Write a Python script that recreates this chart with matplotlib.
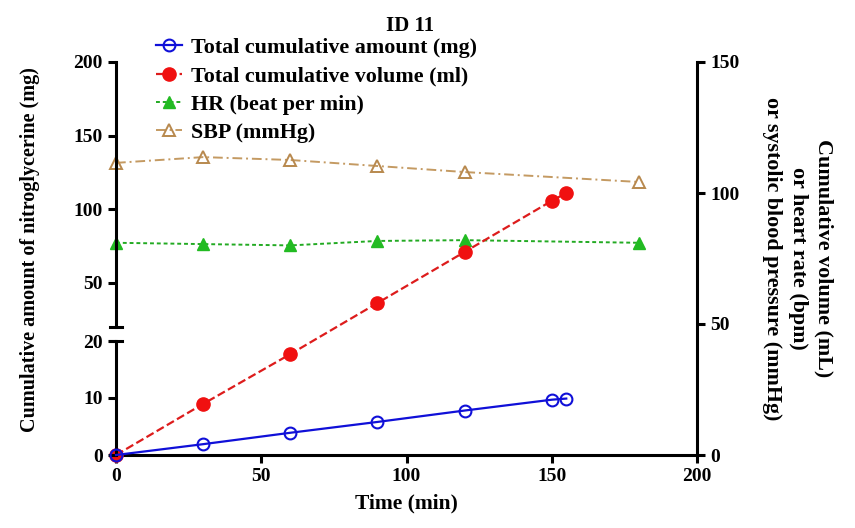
import matplotlib
matplotlib.use('Agg')
import matplotlib.pyplot as plt

plt.rcParams['font.family'] = ['Liberation Serif', 'DejaVu Serif']
plt.rcParams['font.weight'] = 'bold'

# data
time_amount = [0, 30, 60, 90, 120, 150, 155]
amount_mg = [0, 1.9, 3.9, 5.8, 7.8, 9.7, 9.9]
volume_ml = [0, 19.5, 38.5, 58, 77.5, 97, 100]
time_vitals = [0, 30, 60, 90, 120, 180]
hr_bpm = [81, 80.5, 80, 81.7, 82, 81]
sbp_mmhg = [111.5, 113.7, 112.6, 110.3, 108, 104.2]

x_ticks = [0, 50, 100, 150, 200]
right_ticks = [0, 50, 100, 150]
low_ticks = [0, 10, 20]
up_ticks = [50, 100, 150, 200]

fig = plt.figure(figsize=(8.55, 5.28), dpi=100)
L, W = 116 / 855, 581 / 855
B, T = 1 - 455 / 528, 1 - 62 / 528
lw = 2.2
tick_fs = 14

# main axes: volume / HR / SBP against the right-hand scale
ax = fig.add_axes([L, B, W, T - B])
ax.set_facecolor('none')
ax.set_xlim(0, 200)
ax.set_ylim(0, 150)
ax.yaxis.tick_right()
ax.yaxis.set_label_position('right')
ax.spines['top'].set_visible(False)
ax.spines['left'].set_visible(False)
for s in ('bottom', 'right'):
    ax.spines[s].set_linewidth(lw)
ax.set_xticks(x_ticks)
ax.set_yticks(right_ticks)
ax.tick_params(direction='out', length=6, width=lw, labelsize=tick_fs)

red, = ax.plot(time_amount, volume_ml, '--', color='#dd1c1c', lw=1.6,
               marker='o', ms=9.5, mfc='#f01010', mec='#f01010',
               clip_on=False, zorder=5, label='Total cumulative volume (ml)')
green, = ax.plot(time_vitals, hr_bpm, linestyle=(0, (2, 1.5)), color='#22aa22',
                 lw=1.4, marker='^', ms=9, mfc='#22bb22', mec='#22bb22',
                 clip_on=False, zorder=4, label='HR (beat per min)')
tan, = ax.plot(time_vitals, sbp_mmhg, linestyle=(0, (5, 2, 1, 2)), color='#c49a62',
               lw=1.4, marker='^', ms=9, mfc='none', mec='#b8894e', mew=1.4,
               clip_on=False, zorder=4, label='SBP (mmHg)')

ax.set_xlabel('Time (min)', fontsize=15.5, fontweight='bold', labelpad=6)
ax.set_ylabel('Cumulative volume (mL)\nor heart rate (bpm)\nor systolic blood pressure (mmHg)',
              rotation=270, fontsize=15.8, fontweight='bold', labelpad=68,
              linespacing=1.38, multialignment='center')

# broken left axis: lower segment 0-20, upper segment 20-200
low_top = 1 - 341 / 528
up_bot = 1 - 327 / 528
ax_low = fig.add_axes([L, B, W, low_top - B])
ax_up = fig.add_axes([L, up_bot, W, T - up_bot])
for a, lim, ticks in ((ax_low, (0, 20), low_ticks), (ax_up, (20, 200), up_ticks)):
    a.set_facecolor('none')
    a.set_xlim(0, 200)
    a.set_ylim(*lim)
    for s in ('top', 'right', 'bottom'):
        a.spines[s].set_visible(False)
    a.spines['left'].set_linewidth(lw)
    a.set_xticks([])
    a.set_yticks(ticks)
    a.tick_params(direction='out', length=6, width=lw, labelsize=tick_fs)

cap = 6 / 581
ax_low.plot([-cap, cap], [1, 1], color='black', lw=lw, transform=ax_low.transAxes, clip_on=False)
ax_up.plot([-cap, cap], [0, 0], color='black', lw=lw, transform=ax_up.transAxes, clip_on=False)

blue, = ax_low.plot(time_amount, amount_mg, '-', color='#1010d8', lw=1.6,
                    marker='o', ms=8.5, mfc='none', mec='#1010d8', mew=1.5,
                    clip_on=False, zorder=3, label='Total cumulative amount (mg)')

fig.text(30 / 855, 1 - 250 / 528, 'Cumulative amount of nitroglycerine (mg)',
         rotation=90, ha='center', va='center', fontsize=14.5, fontweight='bold')
fig.text(410 / 855, 1 - 26 / 528, 'ID 11', ha='center', va='center',
         fontsize=15, fontweight='bold')

fig.legend(handles=[blue, red, green, tan], loc='upper left',
           bbox_to_anchor=(147 / 855, 1 - 29 / 528), frameon=False,
           prop={'size': 15.8, 'weight': 'bold'}, handlelength=1.2,
           handletextpad=0.4, labelspacing=0.36, borderaxespad=0)

fig.savefig('out.png', dpi=100)
